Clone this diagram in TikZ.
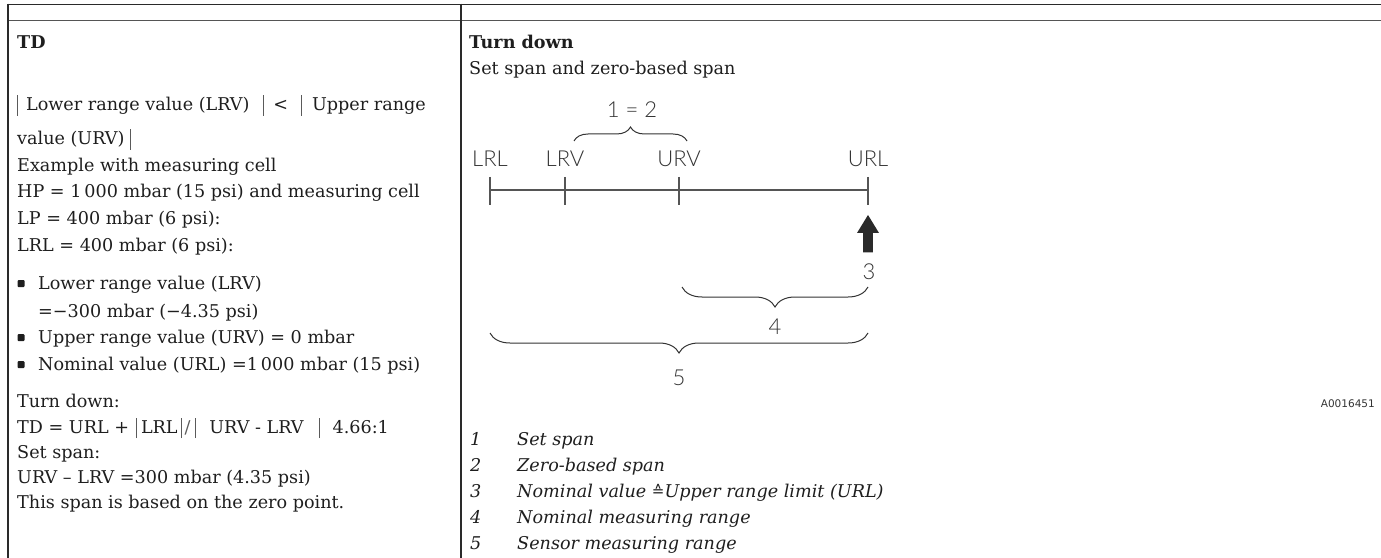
\documentclass[tikz,border=0pt]{standalone}
\usepackage{fontspec}
\usetikzlibrary{decorations.pathreplacing}
\setmainfont{DejaVu Serif}
\IfFontExistsTF{Lato Light}{\newfontfamily\lblfont{Lato Light}}{\newfontfamily\lblfont{Open Sans}}
\newfontfamily\symfont{DejaVu Sans}
\newfontfamily\codefont{DejaVu Sans}
\definecolor{ink}{HTML}{1E1E1E}
\definecolor{rulec}{HTML}{2A2A2A}
\definecolor{axisc}{HTML}{555555}
\definecolor{barc}{HTML}{5A5A5A}
\definecolor{lblc}{HTML}{333333}
% thin absolute-value bar used in the formulas
\newcommand{\vb}{{\color{barc}\rule[-5bp]{0.9bp}{20.5bp}}}
\tikzset{
  txt/.style={anchor=base west, inner sep=0pt, text=ink,
    font=\fontsize{17.6bp}{26bp}\selectfont},
  head/.style={txt, font=\fontsize{17.6bp}{26bp}\selectfont\bfseries},
  legend/.style={txt, font=\fontsize{17.6bp}{26bp}\selectfont\itshape},
  lbl/.style={anchor=base, inner sep=0pt, text=lblc,
    font=\lblfont\fontsize{22bp}{26bp}\selectfont},
  axis/.style={draw=axisc, line width=1.2bp},
  brc/.style={draw=lblc, line width=1bp, decorate},
  tablerule/.style={draw=rulec, line width=1.3bp},
  bulletbox/.style={fill=ink, rounded corners=1bp, minimum size=7bp,
    inner sep=0pt, anchor=center},
}
\begin{document}
\begin{tikzpicture}[x=1bp,y=-1bp]
\useasboundingbox (0,0) rectangle (1381,558);

% table frame
\draw[tablerule] (8,4.3) -- (1381,4.3);
\draw[tablerule, draw=axisc, line width=1.6bp] (8,20.7) -- (1381,20.7);
\draw[tablerule] (8,3.6) -- (8,558);
\draw[tablerule] (461,3.6) -- (461,558);

% left column
\node[head] (tdhead) at (17,49) {TD};
\node[txt] (l1) at (17,111) {\vb\hspace{8bp}Lower range value (LRV)\hspace{13bp}\vb\hspace{10bp}<\hspace{13bp}\vb\hspace{10bp}Upper range};
\node[txt] (l2) at (17,145) {value (URV)\hspace{5bp}\vb};
\node[txt] (l3) at (17,172) {Example with measuring cell};
\node[txt] (l4) at (17,198) {HP = 1\,000 mbar (15 psi) and measuring cell};
\node[txt] (l5) at (17,225) {LP = 400 mbar (6 psi):};
\node[txt] (l6) at (17,252) {LRL = 400 mbar (6 psi):};

\node[bulletbox] (b1) at (21,283.5) {};
\node[txt] (b1t) at (38,289) {Lower range value (LRV)};
\node[txt] (b1u) at (38,317) {=−300 mbar (−4.35 psi)};
\node[bulletbox] (b2) at (21,337.5) {};
\node[txt] (b2t) at (38,343) {Upper range value (URV) = 0 mbar};
\node[bulletbox] (b3) at (21,364.5) {};
\node[txt] (b3t) at (38,370) {Nominal value (URL) =1\,000 mbar (15 psi)};

\node[txt] (t1) at (17,407) {Turn down:};
\node[txt] (t2) at (17,433) {TD = URL +\hspace{7bp}\vb\hspace{4bp}LRL\hspace{3bp}\vb\hspace{3bp}{\color{barc}/}\hspace{5bp}\vb\hspace{13bp}URV - LRV\hspace{15bp}\vb\hspace{13bp}4.66:1};
\node[txt] (t3) at (17,458) {Set span:};
\node[txt] (t4) at (17,483) {URV – LRV =300 mbar (4.35 psi)};
\node[txt] (t5) at (17,508) {This span is based on the zero point.};

% right column headings
\node[head] (rhead) at (469,49) {Turn down};
\node[txt] (rsub) at (469,75) {Set span and zero-based span};

% scale of the measuring range
\coordinate (pLRL) at (490,190);
\coordinate (pLRV) at (565,190);
\coordinate (pURV) at (679,190);
\coordinate (pURL) at (868,190);
\draw[axis] (pLRL) -- (pURL);
\foreach \p in {pLRL,pLRV,pURV,pURL}
  \draw[axis] ([yshift=13bp]\p) -- ([yshift=-15bp]\p);

\node[lbl] (nLRL) at (490,167) {LRL};
\node[lbl] (nLRV) at (565,167) {LRV};
\node[lbl] (nURV) at (679,167) {URV};
\node[lbl] (nURL) at (868,167) {URL};

% brace for the set span
\coordinate (s1a) at (574,141);
\coordinate (s1b) at (687,141);
\draw[brc, decoration={brace, amplitude=14bp}] (s1a) -- (s1b);
\node[lbl] (n12) at (632,118) {1 = 2};

% nominal value arrow
\fill[rulec] (868,215) -- (879,233) -- (872.8,233) -- (872.8,252.5)
  -- (863.2,252.5) -- (863.2,233) -- (857,233) -- cycle;
\node[lbl] (n3) at (869,279) {3};

% nominal measuring range
\coordinate (r4a) at (868,287);
\coordinate (r4b) at (682,287);
\draw[brc, decoration={brace, amplitude=20bp}] (r4a) -- (r4b);
\node[lbl] (n4) at (775,334) {4};

% sensor measuring range
\coordinate (r5a) at (868,333);
\coordinate (r5b) at (490,333);
\draw[brc, decoration={brace, amplitude=20bp}] (r5a) -- (r5b);
\node[lbl] (n5) at (679,385) {5};

% drawing number
\node[anchor=base east, inner sep=0pt, text=lblc,
  font=\codefont\fontsize{10.5bp}{12bp}\selectfont] (code) at (1375,407) {A0016451};

% legend
\node[legend] (k1) at (470,445) {1};
\node[legend] (v1) at (517,445) {Set span};
\node[legend] (k2) at (470,471) {2};
\node[legend] (v2) at (517,471) {Zero-based span};
\node[legend] (k3) at (470,497) {3};
\node[legend] (v3) at (517,497) {Nominal value {\upshape\symfont\fontsize{15bp}{16bp}\selectfont\raisebox{1bp}{≙}}Upper range limit (URL)};
\node[legend] (k4) at (470,523) {4};
\node[legend] (v4) at (517,523) {Nominal measuring range};
\node[legend] (k5) at (470,549) {5};
\node[legend] (v5) at (517,549) {Sensor measuring range};
\end{tikzpicture}
\end{document}
